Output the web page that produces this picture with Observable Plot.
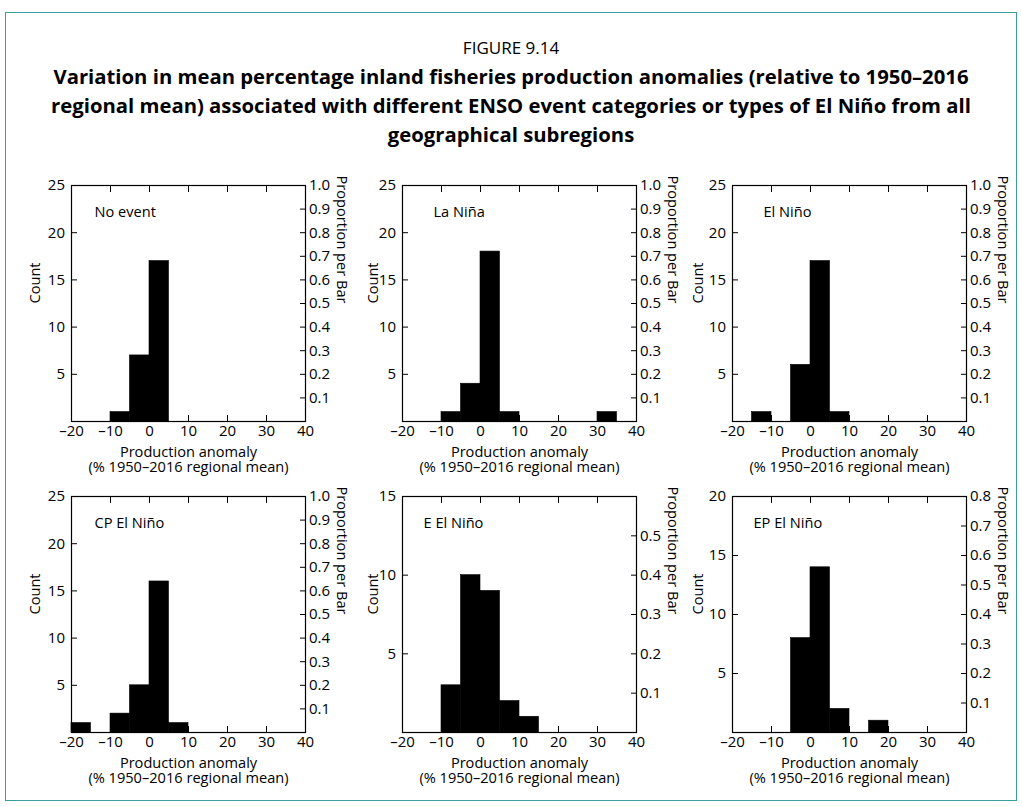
<!DOCTYPE html>
<html>
<head>
<meta charset="utf-8">
<script src="https://cdn.jsdelivr.net/npm/d3@7"></script>
<script src="https://cdn.jsdelivr.net/npm/@observablehq/plot@0.6"></script>
<style>
  html, body { margin: 0; padding: 0; background: #fff; }
  body { font-family: "Open Sans", sans-serif; color: #000; }
  #page { position: relative; width: 1022px; height: 807px; overflow: hidden; }
  #border { position: absolute; left: 5px; top: 12px; width: 1012px; height: 789px; border: 1.5px solid #3a9e9e; box-sizing: border-box; }
  #fig { position: absolute; left: 0; top: 38px; width: 1022px; text-align: center; font-size: 17px; line-height: 20px; }
  #title { position: absolute; left: 0; top: 62px; width: 1022px; text-align: center; font-weight: bold; font-size: 20.3px; line-height: 29px; }
  .panel { position: absolute; }
  .panel svg { background: transparent; overflow: visible; }
</style>
</head>
<body>
<div id="page">
  <div id="border"></div>
  <div id="fig">FIGURE 9.14</div>
  <div id="title">Variation in mean percentage inland fisheries production anomalies (relative to 1950–2016<br>regional mean) associated with different ENSO event categories or types of El Niño from all<br>geographical subregions</div>
</div>
<script>
// ---------------- data ----------------
const binStarts = [-20, -15, -10, -5, 0, 5, 10, 15, 20, 25, 30, 35];
const binEnds   = [-15, -10, -5, 0, 5, 10, 15, 20, 25, 30, 35, 40];

const panelNames = ["No event", "La Niña", "El Niño", "CP El Niño", "E El Niño", "EP El Niño"];

const countsNoEvent = [0, 0, 1, 7, 17, 0, 0, 0, 0, 0, 0, 0];
const countsLaNina  = [0, 0, 1, 4, 18, 1, 0, 0, 0, 0, 1, 0];
const countsElNino  = [0, 1, 0, 6, 17, 1, 0, 0, 0, 0, 0, 0];
const countsCP      = [1, 0, 2, 5, 16, 1, 0, 0, 0, 0, 0, 0];
const countsE       = [0, 0, 3, 10, 9, 2, 1, 0, 0, 0, 0, 0];
const countsEP      = [0, 0, 0, 8, 14, 2, 0, 1, 0, 0, 0, 0];

const totalN = 25;

const countMax = [25, 25, 25, 25, 15, 20];
const countTicks = [
  [5, 10, 15, 20, 25],
  [5, 10, 15, 20, 25],
  [5, 10, 15, 20, 25],
  [5, 10, 15, 20, 25],
  [5, 10, 15],
  [5, 10, 15, 20]
];
const propTicks = [
  [0.1, 0.2, 0.3, 0.4, 0.5, 0.6, 0.7, 0.8, 0.9, 1.0],
  [0.1, 0.2, 0.3, 0.4, 0.5, 0.6, 0.7, 0.8, 0.9, 1.0],
  [0.1, 0.2, 0.3, 0.4, 0.5, 0.6, 0.7, 0.8, 0.9, 1.0],
  [0.1, 0.2, 0.3, 0.4, 0.5, 0.6, 0.7, 0.8, 0.9, 1.0],
  [0.1, 0.2, 0.3, 0.4, 0.5],
  [0.1, 0.2, 0.3, 0.4, 0.5, 0.6, 0.7, 0.8]
];
const xDomain = [-20, 40];
const xTickValues = [-20, -10, 0, 10, 20, 30, 40];
const xInnerTicks = [-10, 0, 10, 20, 30];

const xLabelLine1 = "Production anomaly";
const xLabelLine2 = "(% 1950–2016 regional mean)";
const yLabel = "Count";
const y2Label = "Proportion per Bar";

const allCounts = [countsNoEvent, countsLaNina, countsElNino, countsCP, countsE, countsEP];

// ---------------- layout (styling only) ----------------
const colLeft = [21, 351.7, 681.7];
const rowTop = [173, 484];
const nameDx = [23, 31, 31, 23, 21, 21];
const countLabelDx = [36, 29, 34];
const FONT = "'Open Sans', sans-serif";
const TICK_FS = 15;
const LABEL_FS = 14.6;

const page = document.getElementById("page");

allCounts.forEach((counts, i) => {
  const bars = binStarts.map((lo, j) => ({lo, hi: binEnds[j], count: counts[j]})).filter(d => d.count > 0);
  const col = i % 3, row = Math.floor(i / 3);
  const fmtX = d => d < 0 ? "–" + Math.abs(d) : String(d);
  const chart = Plot.plot({
    width: 330,
    height: 310,
    marginLeft: 50,
    marginRight: 46,
    marginTop: 12,
    marginBottom: 62,
    x: {domain: xDomain},
    y: {domain: [0, countMax[i]]},
    style: {fontFamily: FONT, fontSize: TICK_FS + "px", background: "transparent", color: "#000", overflow: "visible"},
    marks: [
      Plot.rectY(bars, {x1: "lo", x2: "hi", y: "count", fill: "#000", stroke: "#000", strokeWidth: 0.6}),
      Plot.frame({stroke: "#000", strokeWidth: 1.2}),
      Plot.axisX({ticks: xTickValues, tickSize: -6, tickPadding: 10, tickFormat: fmtX, label: null, fontSize: TICK_FS}),
      Plot.axisX({anchor: "top", ticks: xInnerTicks, tickSize: -6, tickFormat: () => "", label: null}),
      Plot.axisY({ticks: countTicks[i], tickSize: -6, tickPadding: 12.5, label: null, fontSize: TICK_FS}),
      Plot.axisY({anchor: "right", ticks: propTicks[i].map(p => p * totalN), tickSize: -6, tickPadding: 9.5,
                  tickFormat: d => (d / totalN).toFixed(1), label: null, fontSize: TICK_FS}),
      Plot.text([yLabel], {frameAnchor: "left", dx: -countLabelDx[col], rotate: -90, fontSize: LABEL_FS, lineAnchor: "middle"}),
      Plot.text([y2Label], {frameAnchor: "right", dx: 36, rotate: 90, fontSize: LABEL_FS, lineAnchor: "middle"}),
      Plot.text([xLabelLine1], {frameAnchor: "bottom", dy: 30.5, fontSize: LABEL_FS, lineAnchor: "middle"}),
      Plot.text([xLabelLine2], {frameAnchor: "bottom", dy: 46, fontSize: LABEL_FS, lineAnchor: "middle"}),
      Plot.text([panelNames[i]], {frameAnchor: "top-left", dx: nameDx[i], dy: 27, textAnchor: "start", lineAnchor: "middle", fontSize: LABEL_FS})
    ]
  });
  const wrap = document.createElement("div");
  wrap.className = "panel";
  wrap.style.left = colLeft[col] + "px";
  wrap.style.top = rowTop[row] + "px";
  wrap.appendChild(chart);
  page.appendChild(wrap);
});
</script>
</body>
</html>
